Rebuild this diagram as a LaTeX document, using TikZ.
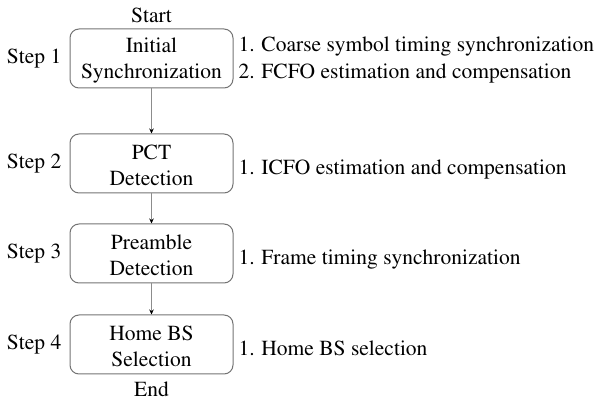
\documentclass[tikz,border=0pt]{standalone}
\usepackage[T1]{fontenc}
\usepackage{mathptmx}
\usetikzlibrary{arrows.meta}
\begin{document}
\begin{tikzpicture}[x=1pt,y=1pt,
  stepbox/.style={draw=black!55, line width=1pt, rounded corners=9pt, minimum width=163pt, minimum height=59pt, inner sep=0pt},
  boxtext/.style={font=\fontsize{21.5}{26}\selectfont, inner sep=0pt, align=center},
  lbl/.style={font=\fontsize{21.5}{27}\selectfont, inner sep=0pt},
  desc/.style={font=\fontsize{21.5}{27}\selectfont, inner sep=0pt, align=left, anchor=west},
  conn/.style={draw=black!45, line width=0.8pt, -{Stealth[length=5pt,width=4.5pt,color=black]}}]
\useasboundingbox (0,0) rectangle (602,404);
\node[stepbox] (b1) at (151.5,345.5) {};
\node[stepbox] (b2) at (151.5,240.5) {};
\node[stepbox] (b3) at (151.5,150.5) {};
\node[stepbox] (b4) at (151.5,59.5) {};
\node[boxtext] (t1) at ([yshift=-2pt]b1.center) {Initial\\Synchronization};
\node[boxtext] (t2) at ([yshift=-2pt]b2.center) {PCT\\Detection};
\node[boxtext] (t3) at ([yshift=-2pt]b3.center) {Preamble\\Detection};
\node[boxtext] (t4) at ([yshift=-2pt]b4.center) {Home BS\\Selection};
\node[lbl, anchor=south] (start) at ([yshift=5.5pt]b1.north) {Start};
\node[lbl, anchor=north] (end) at ([yshift=-7.5pt]b4.south) {End};
\foreach \i in {1,2,3,4}{
  \node[lbl, anchor=east] (s\i) at ([xshift=-8pt,yshift=0pt]b\i.west) {Step \i};
}
\node[desc] (d1) at ([xshift=5pt,yshift=-2pt]b1.east) {1. Coarse symbol timing synchronization\\2. FCFO estimation and compensation};
\node[desc] (d2) at ([xshift=5pt,yshift=-6pt]b2.east) {1. ICFO estimation and compensation};
\node[desc] (d3) at ([xshift=5pt,yshift=-6pt]b3.east) {1. Frame timing synchronization};
\node[desc] (d4) at ([xshift=5pt,yshift=-4pt]b4.east) {1. Home BS selection};
\draw[conn] (b1) -- (b2);
\draw[conn] (b2) -- (b3);
\draw[conn] (b3) -- (b4);
\end{tikzpicture}
\end{document}
